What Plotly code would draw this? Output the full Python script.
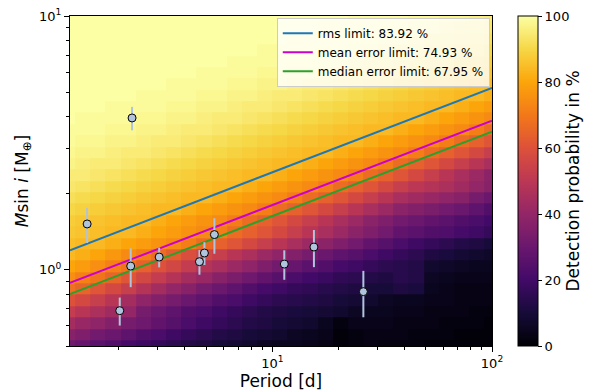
import numpy as np
import plotly.graph_objects as go

# ---------------- data ----------------
# detection-probability grid (rows: mass bins bottom->top, cols: period bins left->right)
prob_rows = [
    [31, 29, 26, 24, 21, 19, 17, 15, 13, 12, 10, 9, 8, 6, 5, 5, 4, 3, 1, 2, 3, 2, 2, 2, 1, 1, 1, 1, 1],
    [37, 35, 32, 30, 27, 24, 22, 19, 17, 15, 13, 12, 10, 9, 8, 6, 5, 4, 1, 2, 3, 3, 3, 2, 2, 2, 1, 1, 1],
    [44, 41, 39, 36, 33, 31, 28, 25, 22, 19, 17, 15, 13, 12, 10, 9, 8, 5, 2, 4, 4, 4, 3, 3, 3, 2, 2, 2, 1],
    [52, 49, 46, 43, 40, 33, 30, 27, 24, 22, 19, 17, 15, 13, 12, 11, 10, 9, 8, 6, 5, 5, 4, 4, 3, 3, 3, 2, 2],
    [60, 57, 53, 49, 44, 39, 36, 33, 30, 27, 24, 22, 19, 17, 15, 14, 13, 12, 10, 9, 8, 6, 5, 5, 4, 4, 3, 3, 3],
    [68, 65, 61, 57, 53, 48, 44, 40, 37, 33, 30, 27, 24, 21, 19, 17, 16, 14, 13, 12, 10, 10, 12, 11, 5, 4, 3, 3, 3],
    [75, 72, 69, 65, 61, 56, 52, 48, 44, 41, 37, 34, 31, 28, 25, 22, 20, 18, 16, 15, 13, 12, 14, 13, 6, 5, 4, 4, 4],
    [80, 78, 75, 72, 69, 64, 60, 56, 52, 48, 45, 42, 39, 35, 32, 29, 26, 24, 21, 19, 17, 15, 14, 13, 8, 7, 6, 5, 5],
    [84, 82, 80, 77, 74, 71, 67, 63, 59, 56, 53, 49, 46, 42, 39, 36, 33, 30, 27, 25, 22, 19, 17, 15, 12, 11, 9, 8, 7],
    [85, 84, 84, 82, 80, 78, 76, 74, 71, 67, 64, 61, 57, 53, 49, 45, 42, 38, 35, 32, 28, 25, 22, 19, 17, 15, 13, 12, 10],
    [87, 86, 85, 84, 84, 82, 80, 78, 76, 74, 71, 67, 64, 61, 57, 53, 49, 45, 42, 38, 35, 32, 28, 26, 24, 23, 21, 19, 17],
    [88, 87, 86, 85, 84, 84, 82, 80, 78, 76, 74, 71, 67, 64, 61, 57, 53, 49, 45, 42, 38, 35, 32, 30, 28, 26, 24, 22, 20],
    [90, 89, 88, 87, 86, 85, 84, 84, 82, 80, 78, 76, 74, 71, 67, 64, 61, 57, 53, 49, 45, 42, 38, 36, 34, 32, 30, 27, 24],
    [92, 91, 90, 89, 88, 87, 86, 85, 84, 84, 82, 80, 78, 76, 74, 71, 67, 64, 61, 57, 53, 49, 45, 43, 41, 39, 37, 33, 30],
    [94, 93, 92, 91, 90, 89, 88, 87, 86, 85, 84, 84, 82, 80, 78, 76, 74, 71, 67, 64, 61, 57, 53, 50, 48, 46, 43, 40, 37],
    [95, 95, 94, 93, 92, 91, 90, 89, 88, 87, 86, 85, 84, 84, 82, 80, 78, 76, 74, 71, 67, 64, 61, 57, 53, 49, 45, 42, 38],
    [97, 96, 95, 95, 94, 93, 92, 91, 90, 89, 88, 87, 86, 85, 84, 84, 82, 80, 78, 76, 74, 71, 67, 64, 61, 57, 53, 49, 45],
    [98, 97, 97, 96, 95, 95, 94, 93, 92, 91, 90, 89, 88, 87, 86, 85, 84, 84, 82, 80, 78, 76, 74, 71, 67, 64, 61, 57, 53],
    [99, 98, 98, 97, 97, 96, 95, 95, 94, 93, 92, 91, 90, 89, 88, 87, 86, 85, 84, 84, 82, 80, 78, 76, 74, 71, 67, 64, 61],
    [99, 99, 99, 98, 98, 97, 97, 96, 95, 95, 94, 93, 92, 91, 90, 89, 88, 87, 86, 85, 84, 84, 82, 80, 78, 76, 74, 71, 67],
    [100, 99, 99, 99, 99, 98, 98, 97, 97, 96, 95, 95, 94, 93, 92, 91, 90, 89, 88, 87, 86, 85, 84, 84, 82, 80, 78, 76, 74],
    [100, 100, 100, 99, 99, 99, 99, 98, 98, 97, 97, 96, 95, 95, 94, 93, 92, 91, 90, 89, 88, 87, 86, 85, 84, 84, 82, 80, 78],
    [100, 100, 100, 100, 100, 99, 99, 99, 99, 98, 98, 97, 97, 96, 95, 95, 94, 93, 92, 91, 90, 89, 88, 87, 86, 85, 84, 84, 82],
    [100, 100, 100, 100, 100, 100, 100, 99, 99, 99, 99, 98, 98, 97, 97, 96, 95, 95, 94, 93, 92, 91, 90, 89, 88, 87, 86, 85, 84],
    [100, 100, 100, 100, 100, 100, 100, 100, 100, 99, 99, 99, 99, 98, 98, 97, 97, 96, 95, 95, 94, 93, 92, 91, 90, 89, 88, 87, 86],
    [100, 100, 100, 100, 100, 100, 100, 100, 100, 100, 100, 99, 99, 99, 99, 98, 98, 97, 97, 96, 95, 95, 94, 93, 92, 91, 90, 89, 88],
    [100, 100, 100, 100, 100, 100, 100, 100, 100, 100, 100, 100, 100, 99, 99, 99, 99, 98, 98, 97, 97, 96, 95, 95, 94, 93, 92, 91, 90],
    [100, 100, 100, 100, 100, 100, 100, 100, 100, 100, 100, 100, 100, 100, 100, 99, 99, 99, 99, 98, 98, 97, 97, 96, 95, 95, 94, 93, 92],
    [100, 100, 100, 100, 100, 100, 100, 100, 100, 100, 100, 100, 100, 100, 100, 100, 100, 99, 99, 99, 99, 98, 98, 97, 97, 96, 95, 95, 94],
    [100, 100, 100, 100, 100, 100, 100, 100, 100, 100, 100, 100, 100, 100, 100, 100, 100, 100, 100, 99, 99, 99, 99, 98, 98, 97, 97, 96, 95],
]

# bin edges of the simulation grid (log-spaced)
period_edges = np.logspace(0.5 * 2 / 29, 29.5 * 2 / 29, 30)
mass_edges = np.logspace(np.log10(0.5) - 0.5 * np.log10(20) / 29,
                         1 + 0.5 * np.log10(20) / 29, 31)

# detection-limit lines
limit_periods = [1.2, 100]
rms_mass = [1.193, 5.21]
mean_mass = [0.887, 3.87]
median_mass = [0.802, 3.50]
limit_names = ["rms limit: 83.92 %", "mean error limit: 74.93 %", "median error limit: 67.95 %"]

# planets
planet_period = [1.436, 2.267, 2.021, 3.055, 4.66, 4.91, 5.45, 2.30, 11.34, 15.47, 25.97]
planet_mass = [1.514, 1.033, 0.689, 1.121, 1.075, 1.163, 1.375, 3.963, 1.052, 1.228, 0.819]
planet_err = [0.24, 0.18, 0.087, 0.10, 0.12, 0.12, 0.22, 0.42, 0.14, 0.205, 0.17]

x_ticks = [10, 100]
x_ticktext = ["10<sup>1</sup>", "10<sup>2</sup>"]
x_minor = [2, 3, 4, 5, 6, 7, 8, 9, 20, 30, 40, 50, 60, 70, 80, 90]
y_ticks = [1, 10]
y_ticktext = ["10<sup>0</sup>", "10<sup>1</sup>"]
y_minor = [0.5, 0.6, 0.7, 0.8, 0.9, 2, 3, 4, 5, 6, 7, 8, 9]
cbar_ticks = [0, 20, 40, 60, 80, 100]

# ---------------- figure ----------------
inferno = [
    [0.0, "#000004"], [0.1, "#160b39"], [0.2, "#420a68"], [0.3, "#6a176e"],
    [0.4, "#932667"], [0.5, "#bc3754"], [0.6, "#dd513a"], [0.7, "#f37819"],
    [0.8, "#fca50a"], [0.9, "#f6d746"], [1.0, "#fcffa4"],
]

FONT = "DejaVu Sans"
fig = go.Figure()

fig.add_trace(go.Heatmap(
    x=period_edges, y=mass_edges, z=prob_rows,
    colorscale=inferno, zmin=0, zmax=100, zsmooth=False,
    showscale=True, hoverinfo="skip",
    colorbar=dict(
        x=1.0616, xanchor="left", xref="paper",
        y=0.5, yanchor="middle", len=1.0, lenmode="fraction",
        thickness=20, thicknessmode="pixels", xpad=0, ypad=0,
        outlinewidth=1, outlinecolor="black",
        tickmode="array", tickvals=cbar_ticks,
        ticks="outside", ticklen=4, tickcolor="black",
        tickfont=dict(family=FONT, size=13, color="black"),
        title=dict(text="Detection probability in %", side="right",
                   font=dict(family=FONT, size=17, color="black")),
    ),
))

line_colors = ["#1f77b4", "#cc00cc", "#2ca02c"]
for name, masses, col in zip(limit_names, [rms_mass, mean_mass, median_mass], line_colors):
    fig.add_trace(go.Scatter(
        x=limit_periods, y=masses, mode="lines", name=name,
        line=dict(color=col, width=2), hoverinfo="skip",
    ))

fig.add_trace(go.Scatter(
    x=planet_period, y=planet_mass, mode="markers", showlegend=False,
    marker=dict(size=8, color="#b0c4de", line=dict(color="black", width=1)),
    error_y=dict(type="data", array=planet_err, visible=True,
                 color="#b0c4de", thickness=2, width=0),
))

axis_common = dict(
    type="log", showgrid=False, zeroline=False,
    showline=True, linecolor="black", linewidth=1, mirror=True,
    ticks="outside", ticklen=5, tickwidth=1, tickcolor="black",
    tickfont=dict(family=FONT, size=13, color="black"),
)

fig.update_layout(
    width=592, height=392,
    margin=dict(l=70, r=100, t=16, b=46, autoexpand=False),
    paper_bgcolor="white", plot_bgcolor="white",
    font=dict(family=FONT, color="black"),
    xaxis=dict(
        **axis_common,
        range=[np.log10(1.2), 2],
        tickmode="array", tickvals=x_ticks, ticktext=x_ticktext,
        minor=dict(tickmode="array", tickvals=x_minor, ticks="outside",
                   ticklen=3, tickcolor="black", tickwidth=1),
        title=dict(text="Period [d]", font=dict(family=FONT, size=17), standoff=4),
    ),
    yaxis=dict(
        **axis_common,
        range=[np.log10(0.5), 1],
        tickmode="array", tickvals=y_ticks, ticktext=y_ticktext,
        minor=dict(tickmode="array", tickvals=y_minor, ticks="outside",
                   ticklen=3, tickcolor="black", tickwidth=1),
        title=dict(text="<i>M</i>sin<i> i</i> [M<sub>⊕</sub>]",
                   font=dict(family=FONT, size=17), standoff=6),
    ),
    legend=dict(
        x=0.49, y=0.995, xanchor="left", yanchor="top",
        bgcolor="rgba(255,255,255,0.8)", bordercolor="#cccccc", borderwidth=1,
        font=dict(family=FONT, size=12, color="black"),
        tracegroupgap=0, itemwidth=30,
    ),
)

fig.write_html(
    "out.html",
    config={"displayModeBar": False},
    post_script="document.body.style.margin='0';document.body.style.padding='0';",
)
